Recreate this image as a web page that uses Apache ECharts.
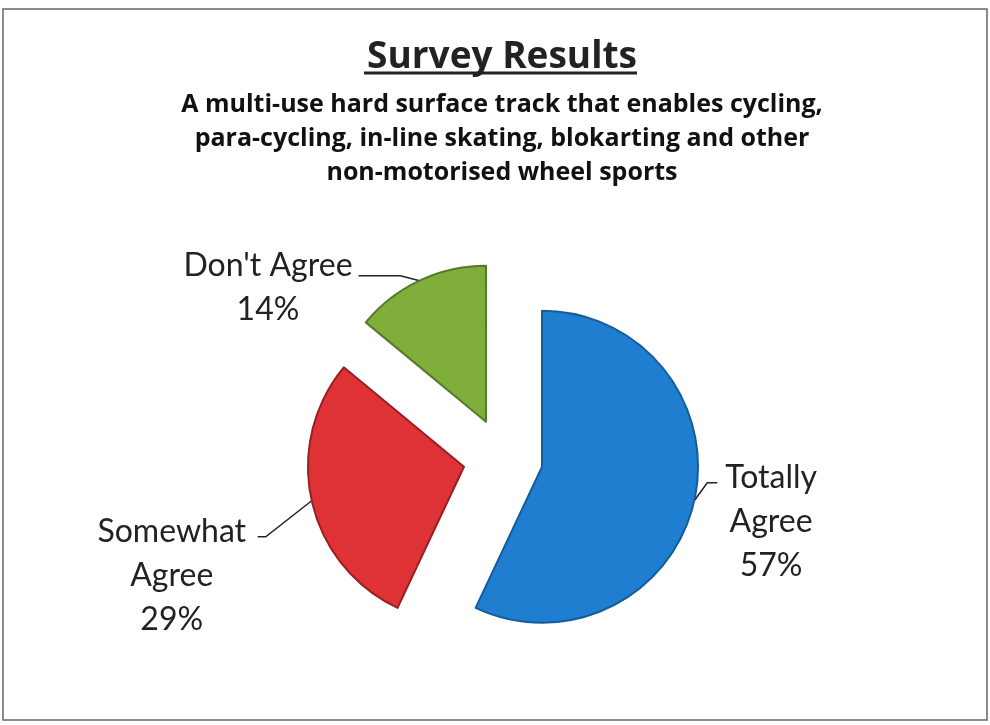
<!DOCTYPE html>
<html>
<head>
<meta charset="utf-8">
<script src="https://cdn.jsdelivr.net/npm/echarts@6/dist/echarts.min.js"></script>
<style>
  html, body { margin: 0; padding: 0; background: #fff; }
  #chart { width: 990px; height: 725px; }
</style>
</head>
<body>
<div id="chart"></div>
<script>
// survey answers, clockwise from 12 o'clock
const categories = ['Totally Agree', 'Somewhat Agree', "Don't Agree"];
const labelLines = [['Totally', 'Agree'], ['Somewhat', 'Agree'], ["Don't Agree"]];
const values = [57, 29, 14];

const colors = ['#1f7ecf', '#de3236', '#7fae3b'];
const edgeColors = ['#145c9c', '#9a1f22', '#56792b'];

// per slice: leader line lengths, width of the centred text block,
// padding that drops the text so the leader meets the first line,
// and the bent leader shape relative to where it leaves the slice
const labelCfg = [
  { len: 8, len2: 18, width: 92, padTop: 39, elbow: [13, -18], end: [23, -18] },
  { len: 10, len2: 57, width: 150, padTop: 131, elbow: [-46, 36], end: [-54, 36] },
  { len: 6, len2: 58, width: 172, padTop: 25, elbow: [-19, -5], end: [-61, -5] }
];

const LABEL_FONT = 'Lato, "Open Sans", sans-serif';
const TITLE_FONT = '"Open Sans", Lato, sans-serif';

const chart = echarts.init(document.getElementById('chart'));

chart.setOption({
  animation: false,
  title: {
    text: 'Survey Results',
    subtext: 'A multi-use hard surface track that enables cycling,\npara-cycling, in-line skating, blokarting and other\nnon-motorised wheel sports',
    left: 502,
    top: 35,
    padding: 0,
    itemGap: 9,
    textAlign: 'center',
    textStyle: {
      fontFamily: TITLE_FONT,
      fontSize: 37,
      fontWeight: 'bold',
      color: '#222',
      lineHeight: 44
    },
    subtextStyle: {
      fontFamily: TITLE_FONT,
      fontSize: 25,
      fontWeight: 'bold',
      color: '#111',
      lineHeight: 34,
      align: 'center'
    }
  },
  graphic: [
    {
      // frame around the whole picture
      type: 'rect',
      shape: { x: 3, y: 9, width: 984, height: 711 },
      style: { fill: 'none', stroke: '#666', lineWidth: 1.5 },
      silent: true
    },
    {
      // underline of the title
      type: 'line',
      shape: { x1: 364, y1: 73, x2: 637, y2: 73 },
      style: { stroke: '#222', lineWidth: 3 },
      silent: true
    }
  ],
  series: [
    {
      type: 'pie',
      center: [503, 458],
      radius: 156,
      startAngle: 90,
      clockwise: true,
      selectedMode: 'multiple',
      selectedOffset: 40,
      emphasis: { disabled: true },
      data: categories.map((name, i) => {
        const c = labelCfg[i];
        return {
          name: name,
          value: values[i],
          selected: true,
          itemStyle: { color: colors[i], borderColor: edgeColors[i], borderWidth: 2 },
          select: { itemStyle: { color: colors[i], borderColor: edgeColors[i], borderWidth: 2 } },
          label: {
            padding: [c.padTop, 0, 0, 0],
            rich: {
              t: {
                width: c.width,
                align: 'center',
                fontFamily: LABEL_FONT,
                fontSize: 32,
                lineHeight: 44,
                color: '#222'
              }
            }
          },
          labelLine: { length: c.len, length2: c.len2 }
        };
      }),
      label: {
        show: true,
        position: 'outside',
        alignTo: 'none',
        distanceToLabelLine: 5,
        formatter: p => labelLines[p.dataIndex].concat(p.value + '%')
          .map(s => '{t|' + s + '}').join('\n'),
        fontFamily: LABEL_FONT,
        fontSize: 32,
        lineHeight: 44,
        color: '#222'
      },
      labelLine: {
        show: true,
        lineStyle: { color: '#222', width: 1.5 }
      },
      labelLayout: function (params) {
        const c = labelCfg[params.dataIndex];
        const p0 = params.labelLinePoints[0];
        return {
          labelLinePoints: [
            p0,
            [p0[0] + c.elbow[0], p0[1] + c.elbow[1]],
            [p0[0] + c.end[0], p0[1] + c.end[1]]
          ]
        };
      }
    }
  ]
});
</script>
</body>
</html>
